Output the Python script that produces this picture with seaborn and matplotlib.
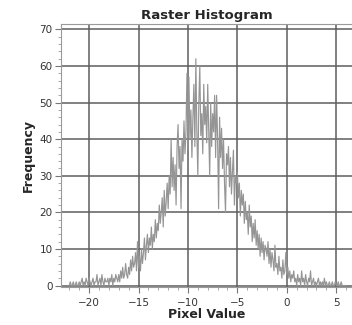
import numpy as np
import pandas as pd
import seaborn as sns
import matplotlib.pyplot as plt
from matplotlib.ticker import MultipleLocator

# histogram bins, 0.1 wide, from -22.0 to 6.0
bin_start = -22.0
bin_width = 0.1
frequency = [
    0, 1, 0, 0, 1, 0, 0, 1, 0, 0,
    1, 0, 1, 2, 0, 1, 0, 2, 1, 0,
    2, 1, 0, 1, 2, 0, 1, 1, 3, 0,
    1, 2, 0, 3, 1, 0, 2, 1, 1, 2,
    0, 2, 1, 3, 0, 2, 1, 3, 2, 1,
    3, 1, 4, 2, 5, 2, 3, 6, 3, 2,
    5, 3, 7, 4, 8, 5, 6, 9, 4, 12,
    5, 8, 4, 10, 6, 9, 13, 7, 11, 14,
    9, 13, 11, 16, 10, 14, 12, 18, 13, 17,
    15, 22, 17, 20, 24, 16, 26, 19, 23, 28,
    21, 30, 25, 40, 27, 35, 26, 33, 22, 38,
    44, 32, 38, 21, 40, 34, 45, 36, 42, 58,
    37, 57, 40, 48, 35, 46, 55, 38, 62, 42,
    30, 50, 60, 41, 47, 36, 55, 44, 49, 39,
    55, 43, 30, 50, 38, 47, 42, 52, 35, 52,
    40, 21, 46, 35, 43, 32, 40, 28, 20, 36,
    33, 38, 27, 35, 25, 31, 37, 22, 30, 28,
    31, 24, 28, 19, 26, 22, 25, 17, 23, 18,
    20, 14, 22, 16, 19, 12, 17, 13, 18, 11,
    15, 10, 14, 8, 13, 9, 12, 7, 11, 10,
    8, 12, 6, 10, 5, 9, 7, 4, 11, 5,
    6, 3, 8, 4, 5, 2, 7, 3, 4, 9,
    3, 5, 2, 4, 1, 3, 2, 4, 1, 2,
    0, 3, 1, 2, 0, 4, 1, 2, 0, 3,
    1, 0, 2, 1, 4, 0, 1, 2, 0, 1,
    0, 1, 2, 0, 1, 0, 1, 0, 2, 0,
    1, 0, 0, 1, 0, 0, 1, 0, 0, 1,
    0, 0, 1, 0, 0, 1, 0, 0, 0, 0,
    0,
]
x_ticks = [-20, -15, -10, -5, 0, 5]
y_ticks = [0, 10, 20, 30, 40, 50, 60, 70]

df = pd.DataFrame({
    "value": bin_start + bin_width * np.arange(len(frequency)),
    "freq": frequency,
})

sns.set_style("white")
plt.rcParams['font.family'] = ['DejaVu Sans']

fig = plt.figure(figsize=(3.52, 3.25), dpi=100)
ax = fig.add_axes([0.173, 0.117, 0.83, 0.808])

sns.lineplot(data=df, x="value", y="freq", color="#959595", linewidth=0.85, ax=ax)

ax.set_xlim(-22.85, 6.7)
ax.set_ylim(-0.4, 71.4)
ax.set_xticks(x_ticks)
ax.set_yticks(y_ticks)
ax.xaxis.set_minor_locator(MultipleLocator(1))
ax.yaxis.set_minor_locator(MultipleLocator(2))
ax.grid(True, which="major", color="#5e5e5e", linewidth=1.1)
ax.tick_params(which="major", direction="out", length=4, width=0.8, color="#777777",
               labelsize=7.5, labelcolor="#333333", pad=2, bottom=True, left=True)
ax.tick_params(axis="x", which="major", pad=4)
ax.tick_params(which="minor", direction="out", length=2, width=0.6, color="#999999",
               bottom=True, left=True)
for s in ax.spines.values():
    s.set_color("#9a9a9a")
    s.set_linewidth(0.8)

ax.set_title("Raster Histogram", fontsize=9.5, fontweight="bold", pad=4)
ax.set_xlabel("Pixel Value", fontsize=9, fontweight="bold", labelpad=0)
ax.set_ylabel("Frequency", fontsize=9, fontweight="bold", labelpad=3)

fig.savefig("out.png", dpi=100)
